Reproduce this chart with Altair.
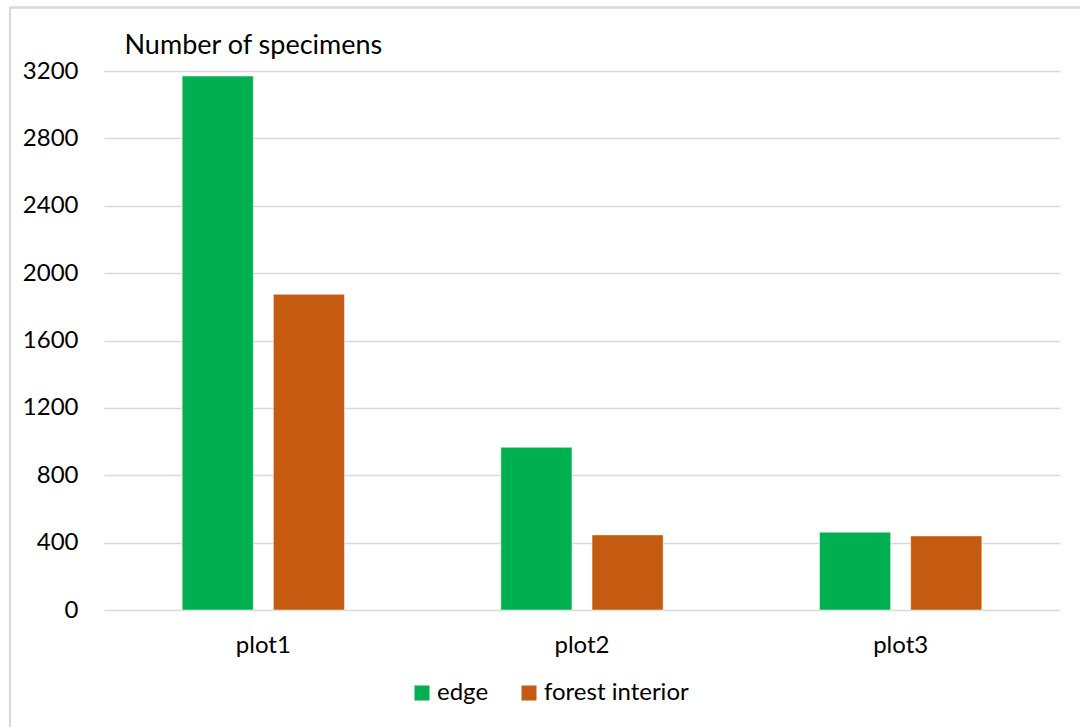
import altair as alt
import pandas as pd

plots = ["plot1", "plot2", "plot3"]
series = ["edge", "forest interior"]
edge_values = [3170, 966, 462]
interior_values = [1874, 446, 440]
y_ticks = [0, 400, 800, 1200, 1600, 2000, 2400, 2800, 3200]
colors = ["#00B050", "#C55A11"]

rows = []
for p, e, f in zip(plots, edge_values, interior_values):
    rows.append({"plot": p, "series": series[0], "value": e})
    rows.append({"plot": p, "series": series[1], "value": f})
df = pd.DataFrame(rows)

FONT = "Lato"
W, H = 956, 539

bars = alt.Chart(df).mark_bar(stroke="white", strokeWidth=0.5).encode(
    x=alt.X("plot:N", sort=plots,
            scale=alt.Scale(paddingInner=0, paddingOuter=0),
            axis=alt.Axis(title=None, labelAngle=0, ticks=False, domain=False,
                          labelPadding=23, labelFontSize=24, labelFont=FONT,
                          labelColor="#000000")),
    xOffset=alt.XOffset("series:N", sort=series,
                        scale=alt.Scale(paddingInner=0.22, paddingOuter=0.857)),
    y=alt.Y("value:Q",
            scale=alt.Scale(domain=[0, 3200], nice=False),
            axis=alt.Axis(values=y_ticks, format="d", title="Number of specimens",
                          titleAngle=0, titleAlign="left", titleBaseline="alphabetic",
                          titleX=20, titleY=-18, titleFont=FONT, titleFontSize=27,
                          titleFontWeight="normal", titleColor="#000000",
                          labelFont=FONT, labelFontSize=24, labelColor="#000000",
                          labelPadding=26, ticks=False, domain=False,
                          gridColor="#d9d9d9", gridWidth=1.5)),
    color=alt.Color("series:N", sort=series,
                    scale=alt.Scale(domain=series, range=colors),
                    legend=alt.Legend(title=None, orient="none", direction="horizontal",
                                      legendX=306, legendY=610,
                                      symbolType="square", symbolSize=225,
                                      symbolStrokeWidth=0, labelOffset=3,
                                      columnPadding=28,
                                      labelFont=FONT, labelFontSize=24,
                                      labelColor="#000000")),
)

border_top = alt.Chart(df).mark_rule(color="#d9d9d9", strokeWidth=1.5).encode(
    x=alt.value(-94), x2=alt.value(W + 30), y=alt.value(-63.5))
border_left = alt.Chart(df).mark_rule(color="#d9d9d9", strokeWidth=1.5).encode(
    x=alt.value(-94), y=alt.value(-64), y2=alt.value(H + 130))

chart = alt.layer(border_top, border_left, bars).properties(
    width=W, height=H,
    autosize=alt.AutoSizeParams(type="none"),
    padding={"left": 104, "top": 71, "right": 20, "bottom": 117},
    background="white",
).configure_view(stroke=None)

chart.save("out.html", embed_options={"renderer": "svg", "actions": False})
